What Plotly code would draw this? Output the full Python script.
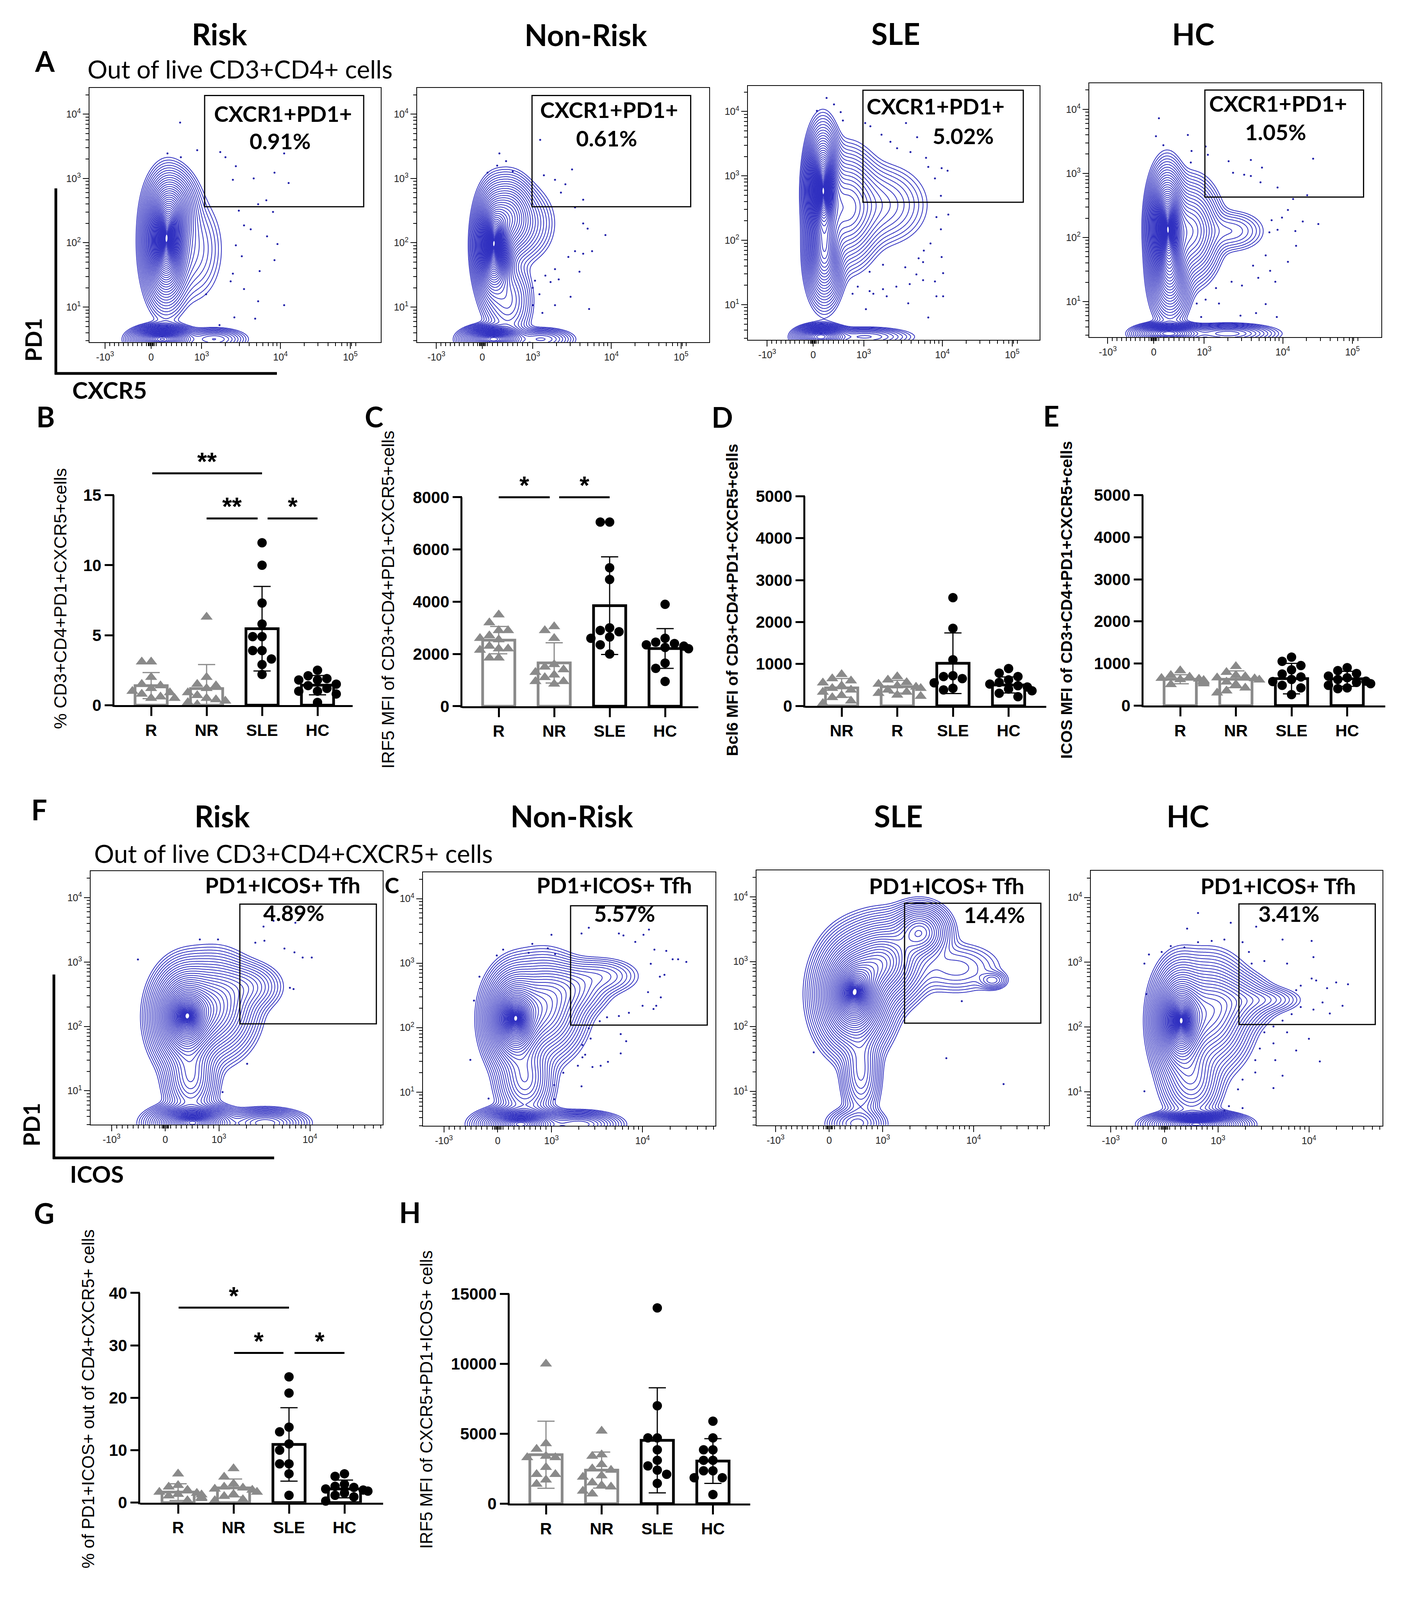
import numpy as np
import plotly.graph_objects as go

W, H = 3595, 4621          # reference geometry (all positions below are given in these pixels)
H_FIG = 4080               # height that the photographed viewport actually shows
SY = H_FIG / H
BLUE = "#3030c0"
DOT = "#1e1ea8"
GREY = "#8a8a8a"
ARIAL = "Liberation Sans"
CAL = "Lato"

# ---------------- bar panels: values ----------------
grp_main = ["R", "NR", "SLE", "HC"]
grp_D = ["NR", "R", "SLE", "HC"]

B_mean = [1.40, 1.19, 5.46, 1.43]
B_sd = [0.93, 1.71, 3.02, 0.69]
B_R = [3.1, 3.1, 2.0, 1.5, 1.4, 1.2, 1.0, 0.9, 0.8, 0.6, 0.5, 0.5]
B_NR = [6.3, 2.0, 1.5, 1.4, 1.2, 0.9, 0.7, 0.5, 0.4, 0.3, 0.2, 0.05]
B_SLE = [11.6, 10.0, 7.3, 5.8, 4.9, 4.9, 3.9, 3.9, 3.3, 2.9, 2.2]
B_HC = [2.5, 2.1, 1.9, 1.8, 1.8, 1.5, 1.4, 1.2, 1.0, 1.0, 0.8, 0.2]

C_mean = [2530, 1660, 3850, 2210]
C_sd = [525, 770, 1870, 760]
C_R = [3500, 3200, 2900, 2900, 2700, 2600, 2550, 2300, 2200, 2200, 2150, 1850, 1850]
C_NR = [3050, 2900, 2600, 1600, 1500, 1400, 1300, 1200, 1100, 950, 950, 850]
C_SLE = [7050, 7050, 5300, 4850, 3000, 2900, 2850, 2650, 2600, 2350, 2000]
C_HC = [3900, 2600, 2450, 2400, 2350, 2300, 2250, 2200, 1650, 1450, 950]

D_mean = [430, 457, 1017, 500]
D_sd = [223, 152, 724, 191]
D_NR = [750, 650, 600, 550, 480, 420, 380, 330, 250, 200, 120, 60]
D_R = [700, 620, 560, 520, 480, 450, 420, 380, 330, 300, 260, 230]
D_SLE = [2580, 1850, 1100, 720, 700, 650, 550, 420, 380]
D_HC = [890, 780, 700, 620, 560, 520, 480, 450, 400, 360, 300, 220]

E_mean = [624, 624, 640, 635]
E_sd = [108, 200, 363, 178]
E_R = [830, 720, 680, 650, 630, 620, 600, 590, 570, 550, 520, 500]
E_NR = [930, 790, 720, 690, 660, 640, 610, 560, 500, 420, 350, 300]
E_SLE = [1150, 1050, 950, 850, 750, 680, 620, 570, 480, 420, 260]
E_HC = [900, 830, 760, 700, 660, 620, 580, 550, 520, 480, 420, 400]

G_mean = [2.0, 2.8, 11.1, 2.6]
G_sd = [1.6, 1.7, 7.0, 1.7]
G_R = [5.5, 3.3, 3.0, 2.4, 2.0, 1.8, 1.6, 1.5, 1.3, 1.0, 0.8, 0.4]
G_NR = [6.5, 4.9, 3.6, 3.0, 2.8, 2.6, 2.4, 2.0, 1.6, 1.2, 0.6, 0.4]
G_SLE = [24.0, 20.9, 14.4, 13.5, 11.2, 10.0, 7.4, 7.4, 5.5, 1.4]
G_HC = [5.5, 5.0, 3.5, 3.1, 2.9, 2.6, 2.4, 2.2, 1.8, 1.4, 1.1, 0.3]

H_mean = [3500, 2400, 4530, 3050]
H_sd = [2400, 1290, 3760, 1600]
H_R = [10000, 4300, 3900, 3400, 3300, 3300, 2600, 2100, 2100, 1700, 1400]
H_NR = [5200, 3500, 3400, 2800, 2500, 2400, 2000, 1900, 1500, 1300, 1200, 900, 700]
H_SLE = [14000, 7000, 4700, 4700, 3850, 3100, 2700, 2400, 2100, 1450]
H_HC = [5900, 4700, 3850, 3850, 3100, 3100, 2350, 2350, 1850, 1850, 650]

# significance brackets: (from, to, height, stars)
B_sig = [(0.02, 2.0, 16.56, "**"), (1.0, 1.92, 13.34, "**"), (2.1, 3.0, 13.34, "*")]
C_sig = [(0.0, 0.92, 8000, "*"), (1.09, 2.0, 8000, "*")]
G_sig = [(0.01, 2.0, 37.2, "*"), (1.01, 1.9, 28.55, "*"), (2.1, 3.0, 28.55, "*")]

# ---------------- flow panels (x in display decades, y = log10 PD1) ----------------
# populations: (x centre, y centre, sd x, sd y, weight)
A_risk_pops = [(0.2, 2.0, 0.13, 0.41, 1.0), (0.3, 2.5, 0.15, 0.28, 0.3), (0.55, 1.9, 0.2, 0.4, 0.06),
               (0.15, 0.5, 0.18, 0.09, 0.8), (0.85, 0.5, 0.2, 0.08, 0.12)]
A_nonrisk_pops = [(0.15, 1.95, 0.11, 0.36, 1.0), (0.35, 2.4, 0.15, 0.28, 0.35), (0.55, 2.3, 0.2, 0.28, 0.08),
                  (0.35, 1.1, 0.15, 0.3, 0.12), (0.15, 0.5, 0.18, 0.09, 0.8), (0.8, 0.5, 0.2, 0.08, 0.12)]
A_sle_pops = [(0.13, 2.8, 0.1, 0.4, 1.0), (0.15, 1.8, 0.11, 0.35, 0.5), (0.45, 2.5, 0.2, 0.4, 0.3),
              (0.9, 2.55, 0.3, 0.3, 0.08), (0.1, 0.5, 0.15, 0.08, 0.6), (0.7, 0.5, 0.3, 0.07, 0.1)]
A_hc_pops = [(0.18, 2.2, 0.11, 0.38, 1.0), (0.22, 1.5, 0.12, 0.35, 0.5), (0.5, 2.1, 0.18, 0.35, 0.35),
             (1.05, 2.1, 0.22, 0.16, 0.06), (0.2, 0.5, 0.2, 0.07, 0.6), (1.0, 0.5, 0.3, 0.07, 0.18)]
F_risk_pops = [(0.22, 2.15, 0.16, 0.34, 1.0), (0.55, 2.3, 0.2, 0.35, 0.4), (0.9, 2.62, 0.18, 0.18, 0.1),
               (0.28, 1.2, 0.13, 0.3, 0.25), (0.3, 0.5, 0.2, 0.12, 0.95), (1.1, 0.5, 0.2, 0.1, 0.25)]
F_nonrisk_pops = [(0.18, 2.13, 0.14, 0.33, 1.0), (0.5, 2.3, 0.2, 0.35, 0.4), (0.8, 2.6, 0.2, 0.2, 0.12),
                  (1.15, 2.8, 0.2, 0.14, 0.06), (0.3, 1.2, 0.14, 0.3, 0.25), (0.25, 0.5, 0.2, 0.11, 0.9),
                  (0.9, 0.5, 0.2, 0.09, 0.25)]
F_sle_pops = [(0.27, 2.5, 0.18, 0.38, 1.0), (0.6, 3.0, 0.2, 0.3, 0.5), (1.0, 3.45, 0.15, 0.2, 0.35),
              (1.8, 2.71, 0.08, 0.07, 0.06), (1.4, 2.9, 0.25, 0.2, 0.05), (0.35, 1.3, 0.1, 0.35, 0.15),
              (0.3, 0.5, 0.15, 0.12, 0.12)]
F_hc_pops = [(0.17, 2.09, 0.13, 0.37, 1.0), (0.5, 2.2, 0.2, 0.38, 0.4), (0.8, 2.4, 0.2, 0.2, 0.12),
             (1.1, 2.42, 0.2, 0.1, 0.06), (0.3, 1.2, 0.15, 0.3, 0.2), (0.35, 0.5, 0.22, 0.08, 0.9)]

A_risk_dx = [0.39, 0.22, 0.40, 0.62, 0.93, 1.0, 1.79, 1.66, 1.85, 1.38, 1.14, 1.10, 1.18, 1.44, 1.55, 1.64, 1.25,
             1.34, 1.56, 1.7, 1.14, 1.22, 1.66, 1.1, 1.46, 1.07, 1.25, 1.44, 1.79, 0.92, 1.12, 1.40, 0.74]
A_risk_dy = [3.87, 3.39, 3.33, 3.44, 3.41, 3.33, 3.39, 3.09, 2.93, 3.0, 3.19, 2.98, 2.50, 2.6, 2.66, 2.48, 2.27,
             2.21, 2.1, 1.98, 1.96, 1.79, 1.73, 1.52, 1.56, 1.4, 1.28, 1.09, 1.03, 0.72, 0.84, 0.82, 1.2]
A_nonrisk_dx = [0.23, 0.32, 0.2, 0.41, 0.07, 0.78, 0.83, 0.98, 1.12, 1.21, 1.06, 1.25, 1.36, 1.36, 1.42, 1.66,
                1.48, 1.25, 1.36, 1.16, 1.31, 0.98, 0.85, 0.71, 0.92, 1.03, 0.68, 0.77, 1.19, 0.98, 1.44, 0.68,
                0.81]
A_nonrisk_dy = [3.39, 3.27, 3.2, 3.11, 3.09, 3.6, 3.05, 2.98, 2.91, 3.14, 2.78, 2.55, 2.67, 2.3, 2.22, 2.12,
                1.87, 1.87, 1.83, 1.78, 1.55, 1.59, 1.49, 1.41, 1.39, 1.43, 1.3, 1.2, 1.16, 1.03, 0.97, 1.03,
                0.91]
A_sle_dx = [0.18, 0.28, 0.05, 0.37, 0.40, 0.7, 0.77, 0.92, 1.04, 1.13, 1.25, 1.31, 1.40, 1.52, 1.55, 1.64, 1.73,
            1.81, 1.72, 1.66, 1.72, 1.82, 1.58, 1.49, 1.42, 1.73, 1.75, 1.64, 1.48, 1.3, 1.12, 0.94, 0.76, 0.60,
            0.53, 0.71, 0.81, 0.99, 1.28, 1.55, 1.66, 1.75, 0.76, 0.94, 1.24, 1.39, 1.48]
A_sle_dy = [4.21, 4.11, 4.01, 3.99, 3.86, 3.82, 3.77, 3.64, 3.53, 3.43, 3.82, 3.37, 3.6, 3.28, 3.14, 2.96, 3.12,
            3.08, 2.69, 2.36, 2.17, 2.4, 1.95, 1.84, 1.72, 1.74, 1.49, 1.36, 1.38, 1.32, 1.28, 1.24, 1.21, 1.28,
            1.17, 0.93, 1.17, 1.13, 1.02, 0.8, 1.13, 1.13, 1.51, 1.62, 1.58, 1.47, 1.66]
A_hc_dx = [0.07, 0.03, 0.13, 0.46, 0.51, 0.5, 0.7, 0.73, 1.01, 1.31, 1.46, 1.07, 1.22, 1.31, 1.44, 1.67, 1.88,
           2.07, 2.15, 2.01, 2.22, 1.81, 1.73, 1.59, 1.56, 1.67, 1.91, 1.92, 1.51, 1.81, 1.34, 1.57, 1.41, 1.64,
           1.19, 1.05, 0.84, 0.7, 0.58, 0.88, 1.17, 1.38, 1.51, 1.66, 0.64]
A_hc_dy = [3.86, 3.58, 3.44, 3.6, 3.35, 3.17, 3.42, 3.29, 3.19, 3.21, 3.09, 3.01, 2.98, 2.96, 2.86, 2.78, 2.6,
           2.66, 3.23, 2.25, 2.21, 2.43, 2.31, 2.27, 2.08, 2.12, 2.1, 1.87, 1.72, 1.62, 1.56, 1.48, 1.37, 1.31,
           1.25, 1.31, 1.21, 1.03, 0.97, 0.97, 0.78, 0.82, 0.96, 0.76, 0.76]
F_risk_dx = [-0.30, 0.38, 0.58, 0.99, 1.09, 1.08, 1.19, 1.43, 1.31, 1.42, 1.51, 1.61, 1.37, 1.41, 0.63, 0.9]
F_risk_dy = [3.04, 3.35, 3.35, 3.3, 3.33, 3.55, 3.64, 3.61, 3.21, 3.15, 3.07, 3.07, 2.6, 2.58, 0.98, 1.42]
F_nonrisk_dx = [0.06, -0.01, 0.38, 0.59, 0.55, 0.63, 0.34, 0.92, 1.0, 1.33, 1.38, 1.6, 1.66, 1.51, 1.72, 1.85,
                1.92, 1.98, 2.07, 1.68, 1.83, 1.78, 1.79, 1.74, 1.71, 1.65, 1.59, 1.44, 1.33, 1.2, 1.12, 1.0,
                1.35, 1.41, 1.02, 0.93, 0.96, 0.88, 1.04, 1.13, 1.21, 1.35, 0.93, 0.72, 0.62, 0.62, 0.92, -0.3,
                -0.26, -0.2, -0.1]
F_nonrisk_dy = [3.21, 3.12, 3.3, 3.44, 3.23, 3.14, 3.16, 3.46, 3.55, 3.46, 3.43, 3.44, 3.52, 3.33, 3.21, 3.19,
                3.06, 3.06, 3.02, 2.99, 2.82, 2.79, 2.47, 2.34, 2.29, 2.55, 2.34, 2.23, 2.18, 2.16, 2.1, 1.99,
                1.9, 1.79, 1.83, 1.73, 1.58, 1.41, 1.39, 1.41, 1.47, 1.6, 1.54, 1.3, 1.11, 0.89, 1.09, 1.5, 2.42,
                2.79, 0.9]
F_sle_dx = [1.46, 1.29, 1.92, -0.17]
F_sle_dy = [2.39, 1.51, 1.11, 1.6]
F_hc_dx = [0.37, 0.25, 0.73, 1.01, 1.3, 1.62, 1.64, 1.89, 2.02, 1.96, 1.79, 1.67, 1.62, 1.5, 1.45, 1.35, 1.1,
           0.96, 0.93, 0.86, 0.66, 0.52, 0.37, 0.22, 0.07, -0.03, -0.17, -0.22, -0.2, 1.74, 1.82, 1.64, 1.5,
           1.4, 1.3, 1.2, 1.1, 1.35, 1.59, 1.45, 1.2, 1.05, 1.0, 1.22, 1.0, 0.86, 0.81, 0.71, 0.66, 1.3, 1.71,
           1.2, -0.22, 0.86]
F_hc_dy = [3.76, 3.52, 3.61, 3.55, 3.35, 3.33, 3.08, 2.69, 2.66, 2.33, 2.6, 2.72, 2.75, 2.64, 2.57, 2.98, 3.02,
           2.98, 3.16, 3.31, 3.35, 3.33, 3.31, 3.23, 3.25, 3.16, 3.12, 2.98, 2.51, 2.38, 2.21, 2.27, 2.31,
           2.2, 2.1, 2.01, 1.92, 1.92, 1.82, 1.64, 1.75, 1.67, 1.49, 1.49, 1.3, 1.19, 1.04, 0.78, 0.71, 1.25,
           1.47, 1.06, 1.01, 0.75]

A_xtick_pos = [-0.62, 0, 0.68, 1.74, 2.68]
A_xtick_txt = ["-10<sup>3</sup>", "0", "10<sup>3</sup>", "10<sup>4</sup>", "10<sup>5</sup>"]
F_xtick_pos = [-0.59, 0, 0.59, 1.59]
F_xtick_txt = ["-10<sup>3</sup>", "0", "10<sup>3</sup>", "10<sup>4</sup>"]
y_tick_pos = [1, 2, 3, 4]
y_tick_txt = ["10<sup>1</sup>", "10<sup>2</sup>", "10<sup>3</sup>", "10<sup>4</sup>"]

fig = go.Figure()
axes = {}
shapes = []
anns = []


def pp(x, y):
    return x / W, 1 - y / H


def text(x, y, s, size, family=CAL, weight="normal", angle=0, xa="center", ya="middle", color="black"):
    xx, yy = pp(x, y)
    anns.append(dict(x=xx, y=yy, xref="paper", yref="paper", text=s, showarrow=False, textangle=angle,
                     xanchor=xa, yanchor=ya, font=dict(size=size, family=family, weight=weight, color=color)))


def minor_x(p3, p4, pneg, xmax):
    vals = []
    for v in list(range(100, 1000, 100)) + [20, 40, 60]:
        vals += [v / 1000 * p3, -v / 1000 * abs(pneg)]
    dec = p4 - p3
    for a in [p3, p4, p4 + dec]:
        for k in range(2, 10):
            pos = a + np.log10(k) * dec
            if pos < xmax:
                vals.append(pos)
    return vals


minor_y = [d + np.log10(k) for d in range(0, 5) for k in range(2, 10) if 0.45 < d + np.log10(k) < 4.41]
Z_END = 2.2
LEVEL_POW = 0.5
N_LEVELS = 40


def flow(n, frame, xr, yr, xt, xtt, xminor, pops, dx, dy, gate):
    l, r, t, b = frame
    common = dict(ticks="outside", ticklen=15, tickwidth=2, tickcolor="black", showline=True, mirror=True,
                  linewidth=2, linecolor="black", showgrid=False, zeroline=False,
                  tickfont=dict(size=25, family=ARIAL, color="#222"))
    axes["xaxis%d" % n] = dict(domain=[l / W, r / W], range=xr, anchor="y%d" % n, tickvals=xt, ticktext=xtt,
                               minor=dict(tickvals=xminor, ticklen=8, tickwidth=1.5, ticks="outside",
                                          tickcolor="black", showgrid=False), **common)
    axes["yaxis%d" % n] = dict(domain=[1 - b / H, 1 - t / H], range=yr, anchor="x%d" % n, tickvals=y_tick_pos,
                               ticktext=y_tick_txt,
                               minor=dict(tickvals=minor_y, ticklen=8, tickwidth=1.5, ticks="outside",
                                          tickcolor="black", showgrid=False), **common)
    gx = np.linspace(xr[0], xr[1], 320)
    gy = np.linspace(yr[0], yr[1], 320)
    X, Y = np.meshgrid(gx, gy)
    dens = np.zeros_like(X)
    for cx, cy, sx, sy, w in pops:
        dens += w * np.exp(-0.5 * ((X - cx) / sx) ** 2 - 0.5 * ((Y - cy) / sy) ** 2)
    z = np.sqrt(np.log(dens.max()) - np.log(dens + 1e-300)) ** LEVEL_POW
    top = Z_END ** LEVEL_POW
    fig.add_trace(go.Contour(x=gx, y=gy, z=z, xaxis="x%d" % n, yaxis="y%d" % n, autocontour=False,
                             contours=dict(coloring="lines", start=0.3, end=top, size=(top - 0.3) / N_LEVELS),
                             line=dict(width=2.0), colorscale=[[0, BLUE], [1, BLUE]], showscale=False,
                             hoverinfo="skip"))
    fig.add_trace(go.Scatter(x=dx, y=dy, mode="markers", xaxis="x%d" % n, yaxis="y%d" % n,
                             marker=dict(size=5, color=DOT), hoverinfo="skip"))
    shapes.append(dict(type="rect", xref="x%d" % n, yref="y%d" % n, x0=gate[0], x1=gate[1], y0=gate[2],
                       y1=gate[3], line=dict(color="black", width=3)))


A_minor = minor_x(0.68, 1.74, -0.62, 3.08)
F_minor = minor_x(0.59, 1.59, -0.59, 2.42)

flow(1, (221, 967, 222, 968), [-0.83, 3.09], [0.455, 4.41], A_xtick_pos, A_xtick_txt, A_minor,
     A_risk_pops, A_risk_dx, A_risk_dy, (0.72, 2.86, 2.56, 4.29))
flow(2, (1060, 1808, 222, 968), [-0.88, 3.06], [0.455, 4.41], A_xtick_pos, A_xtick_txt, A_minor,
     A_nonrisk_pops, A_nonrisk_dx, A_nonrisk_dy, (0.67, 2.81, 2.56, 4.29))
flow(3, (1907, 2654, 216, 961), [-0.88, 3.05], [0.455, 4.40], A_xtick_pos, A_xtick_txt, A_minor,
     A_sle_pops, A_sle_dx, A_sle_dy, (0.67, 2.83, 2.59, 4.33))
flow(4, (2781, 3529, 208, 953), [-0.87, 3.07], [0.447, 4.41], A_xtick_pos, A_xtick_txt, A_minor,
     A_hc_pops, A_hc_dx, A_hc_dy, (0.69, 2.83, 2.63, 4.30))
flow(5, (224, 972, 2520, 3263), [-0.82, 2.39], [0.476, 4.41], F_xtick_pos, F_xtick_txt, F_minor,
     F_risk_pops, F_risk_dx, F_risk_dy, (0.82, 2.32, 2.04, 3.90))
flow(6, (1075, 1824, 2523, 3267), [-0.82, 2.39], [0.476, 4.41], F_xtick_pos, F_xtick_txt, F_minor,
     F_nonrisk_pops, F_nonrisk_dx, F_nonrisk_dy, (0.80, 2.30, 2.04, 3.89))
flow(7, (1929, 2678, 2517, 3265), [-0.80, 2.42], [0.476, 4.41], F_xtick_pos, F_xtick_txt, F_minor,
     F_sle_pops, F_sle_dx, F_sle_dy, (0.83, 2.33, 2.05, 3.90))
flow(8, (2785, 3532, 2519, 3267), [-0.81, 2.40], [0.476, 4.41], F_xtick_pos, F_xtick_txt, F_minor,
     F_hc_pops, F_hc_dx, F_hc_dy, (0.82, 2.32, 2.04, 3.90))


def swarm(vals, ppu, size, step):
    placed = []
    res = [0.0] * len(vals)
    for i in sorted(range(len(vals)), key=lambda j: -vals[j]):
        ypx = vals[i] * ppu
        for k in [0, -0.5, 0.5, -1, 1, -1.5, 1.5, -2, 2, -2.5, 2.5]:
            xo = k * size
            if all(abs(xo - a) >= size * 0.95 or abs(ypx - b) >= size * 0.95 for a, b in placed):
                break
        placed.append((xo, ypx))
        res[i] = xo / step
    return res


def bars(n, labels, means, sds, pts, cols, left, right, cat0, step, y0, ytop, topval, dtick, sig, rmax=None):
    ppu = (y0 - ytop) / topval
    rmax = rmax or topval
    ymax_px = y0 - rmax * ppu
    tv = [int(v) for v in np.arange(0, topval + 1, dtick)]
    font = dict(size=42, family=ARIAL, weight="bold", color="black")
    axes["xaxis%d" % n] = dict(domain=[left / W, right / W], range=[(left - cat0) / step, (right - cat0) / step],
                               anchor="y%d" % n, tickvals=[0, 1, 2, 3], ticktext=labels, ticks="outside",
                               ticklen=23, tickwidth=5, tickcolor="black", showline=True, linewidth=5,
                               linecolor="black", showgrid=False, zeroline=False, tickfont=font)
    axes["yaxis%d" % n] = dict(domain=[1 - y0 / H, 1 - ymax_px / H], range=[0, rmax], anchor="x%d" % n,
                               tickvals=tv, ticktext=[str(v) for v in tv], ticks="outside", ticklen=24,
                               tickwidth=5, tickcolor="black", showline=False, showgrid=False, zeroline=False,
                               tickfont=font)
    shapes.append(dict(type="line", xref="paper", yref="paper", x0=(left - 2.5) / W, x1=(left - 2.5) / W,
                       y0=1 - (y0 + 5) / H, y1=1 - ytop / H, line=dict(color="black", width=5)))
    for i in range(4):
        grey = cols[i] == GREY
        fig.add_trace(go.Bar(x=[i], y=[means[i]], width=0.58, xaxis="x%d" % n, yaxis="y%d" % n,
                             marker=dict(color="white", line=dict(color=cols[i], width=7)),
                             error_y=dict(type="data", array=[sds[i]], color=cols[i], thickness=3, width=22),
                             hoverinfo="skip"))
        offs = swarm(pts[i], ppu * SY, 24, step)
        fig.add_trace(go.Scatter(x=[i + o for o in offs], y=pts[i], mode="markers", xaxis="x%d" % n,
                                 yaxis="y%d" % n, cliponaxis=False, hoverinfo="skip",
                                 marker=dict(symbol="triangle-up" if grey else "circle", size=27 if grey else 24,
                                             color=cols[i], line=dict(width=0))))
    for a, b, yv, s in sig:
        fig.add_trace(go.Scatter(x=[a, b], y=[yv, yv], mode="lines", xaxis="x%d" % n, yaxis="y%d" % n,
                                 line=dict(color="black", width=5), hoverinfo="skip"))
        anns.append(dict(x=(a + b) / 2, y=yv, xref="x%d" % n, yref="y%d" % n, text=s, showarrow=False,
                         yanchor="bottom", yshift=-8, font=dict(size=64, family=ARIAL, weight="bold",
                                                                color="black")))


cols_main = [GREY, GREY, "black", "black"]
bars(9, grp_main, B_mean, B_sd, [B_R, B_NR, B_SLE, B_HC], cols_main, 285, 895, 379, 142, 2033, 1417, 15, 5,
     B_sig, rmax=17.2)
bars(10, grp_main, C_mean, C_sd, [C_R, C_NR, C_SLE, C_HC], cols_main, 1176, 1780, 1269, 142, 2036, 1423, 8000,
     2000, C_sig, rmax=8300)
bars(11, grp_D, D_mean, D_sd, [D_NR, D_R, D_SLE, D_HC], cols_main, 2054, 2671, 2147, 142.5, 2035, 1420, 5000,
     1000, [])
bars(12, grp_main, E_mean, E_sd, [E_R, E_NR, E_SLE, E_HC], cols_main, 2920, 3539, 3014, 142.5, 2034, 1417, 5000,
     1000, [])
bars(13, grp_main, G_mean, G_sd, [G_R, G_NR, G_SLE, G_HC], cols_main, 351, 973, 448, 142, 4372, 3757, 40, 10,
     G_sig)
bars(14, grp_main, H_mean, H_sd, [H_R, H_NR, H_SLE, H_HC], cols_main, 1297, 1913, 1390, 142.5, 4375, 3760,
     15000, 5000, [])

# ---- titles and labels ----
for x, y, s in [(554, 64, "Risk"), (1492, 66, "Non-Risk"), (2285, 63, "SLE"), (3047, 64, "HC"),
                (561, 2358, "Risk"), (1456, 2357, "Non-Risk"), (2292, 2357, "SLE"), (3033, 2357, "HC")]:
    text(x, y, s, 76, weight="bold")
text(214, 167, "Out of live CD3+CD4+ cells", 64, xa="left")
text(231, 2468, "Out of live CD3+CD4+CXCR5+ cells", 64, xa="left")
for x, y, s in [(107, 143, "A"), (108, 1186, "B"), (950, 1186, "C"), (1841, 1187, "D"), (2683, 1184, "E"),
                (92, 2338, "F"), (105, 3522, "G"), (1041, 3520, "H")]:
    text(x, y, s, 72, weight="bold")

for x, y, s in [(716, 297, "CXCR1+PD1+"), (709, 378, "0.91%"), (1551, 286, "CXCR1+PD1+"), (1545, 370, "0.61%"),
                (2387, 275, "CXCR1+PD1+"), (2458, 363, "5.02%"), (3264, 268, "CXCR1+PD1+"),
                (3258, 351, "1.05%"),
                (716, 2560, "PD1+ICOS+ Tfh"), (995, 2560, "C"), (744, 2642, "4.89%"),
                (1565, 2560, "PD1+ICOS+ Tfh"), (1591, 2644, "5.57%"),
                (2416, 2563, "PD1+ICOS+ Tfh"), (2538, 2647, "14.4%"),
                (3265, 2563, "PD1+ICOS+ Tfh"), (3292, 2644, "3.41%")]:
    text(x, y, s, 56, weight="bold")

# axis-name brackets on the first flow plot of each row
for vx, vy0, vy1, hx1 in [(135, 517, 1060, 701), (130, 2823, 3361, 694)]:
    shapes.append(dict(type="line", xref="paper", yref="paper", x0=vx / W, x1=vx / W, y0=1 - vy0 / H,
                       y1=1 - (vy1 + 3) / H, line=dict(color="black", width=7)))
    shapes.append(dict(type="line", xref="paper", yref="paper", x0=(vx - 3) / W, x1=hx1 / W, y0=1 - vy1 / H,
                       y1=1 - vy1 / H, line=dict(color="black", width=7)))
text(77, 961, "PD1", round(64 * SY), weight="bold", angle=-90)
text(272, 1108, "CXCR5", 60, weight="bold")
text(72, 3263, "PD1", round(64 * SY), weight="bold", angle=-90)
text(240, 3408, "ICOS", 60, weight="bold")

# bar panel y titles (rotated, so they follow the vertical scale)
text(146, 1720, "% CD3+CD4+PD1+CXCR5+cells", round(51 * SY), family=ARIAL, angle=-90)
text(986, 1724, "IRF5 MFI of CD3+CD4+PD1+CXCR5+cells", round(51 * SY), family=ARIAL, angle=-90)
text(1867, 1724, "Bcl6 MFI of CD3+CD4+PD1+CXCR5+cells", round(47 * SY), family=ARIAL, weight="bold", angle=-90)
text(2723, 1725, "ICOS MFI of CD3+CD4+PD1+CXCR5+cells", round(47 * SY), family=ARIAL, weight="bold", angle=-90)
text(217, 4068, "% of PD1+ICOS+ out of CD4+CXCR5+ cells", round(50 * SY), family=ARIAL, angle=-90)
text(1083, 4070, "IRF5 MFI of CXCR5+PD1+ICOS+ cells", round(50 * SY), family=ARIAL, angle=-90)

fig.update_layout(width=W, height=H_FIG, autosize=False, margin=dict(l=0, r=0, t=0, b=0),
                  paper_bgcolor="white", plot_bgcolor="white", showlegend=False, barmode="overlay",
                  font=dict(family=ARIAL, color="black"), shapes=shapes, annotations=anns, **axes)
fig.write_html("out.html")
